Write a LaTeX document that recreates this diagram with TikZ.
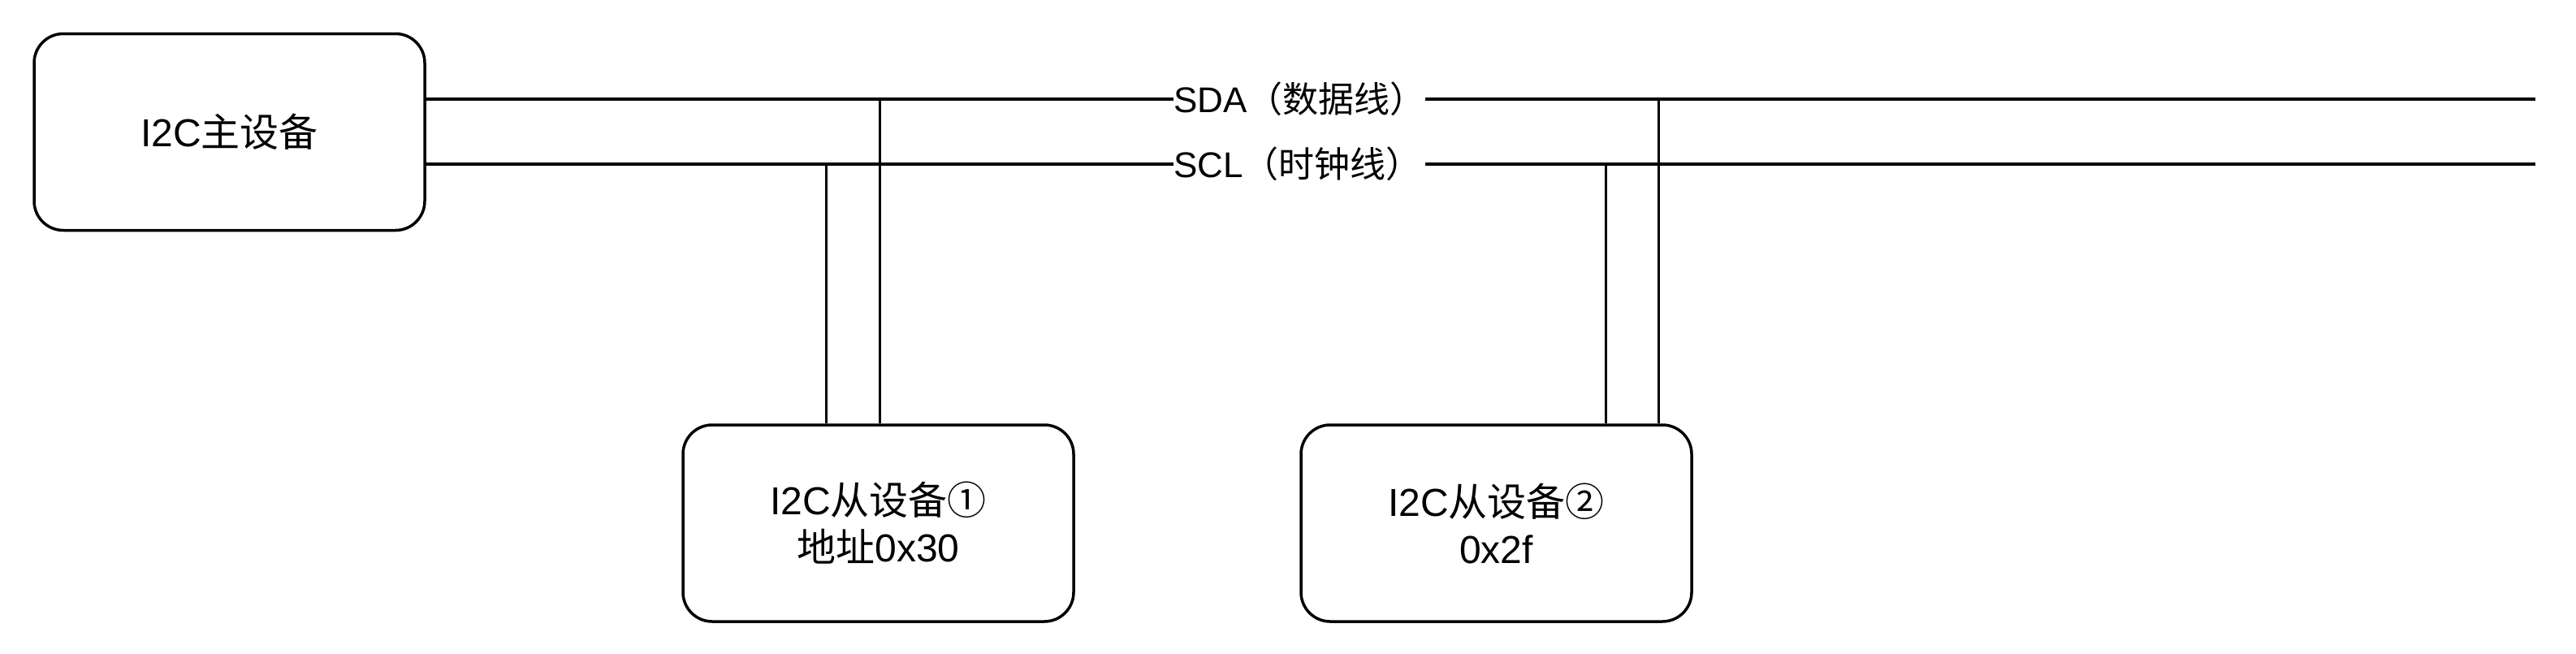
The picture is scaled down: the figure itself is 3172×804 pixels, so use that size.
\documentclass[tikz,border=0pt]{standalone}
\usepackage{fontspec}
\setmainfont{Liberation Sans}
\newfontfamily\cjk{Noto Sans CJK SC}
\begin{document}
\begin{tikzpicture}[x=0.5pt,y=-0.5pt,
  box/.style={draw, line width=1.75pt, rounded corners=18pt, minimum width=240.5pt,
    minimum height=121pt, inner sep=0pt, align=center,
    font=\fontsize{24}{29}\selectfont},
  bus/.style={line width=2pt},
  tap/.style={line width=1.5pt},
  lbl/.style={inner sep=0pt, text width=155pt, align=left,
    font=\fontsize{22}{26}\selectfont}]
\useasboundingbox (0,0) rectangle (3172,804);
% devices
\node[box] (master) at (282.5,162.5) {I2C{\cjk 主设备}};
\node[box] (s1) at (1081.5,644) {I2C{\cjk 从设备①}\\{\cjk 地址}0x30};
\node[box] (s2) at (1842.5,644) {I2C{\cjk 从设备②}\\0x2f};
% bus labels
\node[lbl] (sda) at (1600,122) {SDA{\cjk （数据线）}};
\node[lbl] (scl) at (1600,202) {SCL{\cjk （时钟线）}};
% bus ends and taps
\coordinate (sdaR) at (3122,122);
\coordinate (sclR) at (3122,202);
\coordinate (c1) at (1017,202);
\coordinate (d1) at (1083,122);
\coordinate (c2) at (1977,202);
\coordinate (d2) at (2042,122);
% bus lines
\draw[bus] (master.east |- sda.west) -- (sda.west);
\draw[bus] (sda.east) -- (sdaR);
\draw[bus] (master.east |- scl.west) -- (scl.west);
\draw[bus] (scl.east) -- (sclR);
% taps
\draw[tap] (c1) -- (c1 |- s1.north);
\draw[tap] (d1) -- (d1 |- s1.north);
\draw[tap] (c2) -- (c2 |- s2.north);
\draw[tap] (d2) -- (d2 |- s2.north);
\end{tikzpicture}
\end{document}
